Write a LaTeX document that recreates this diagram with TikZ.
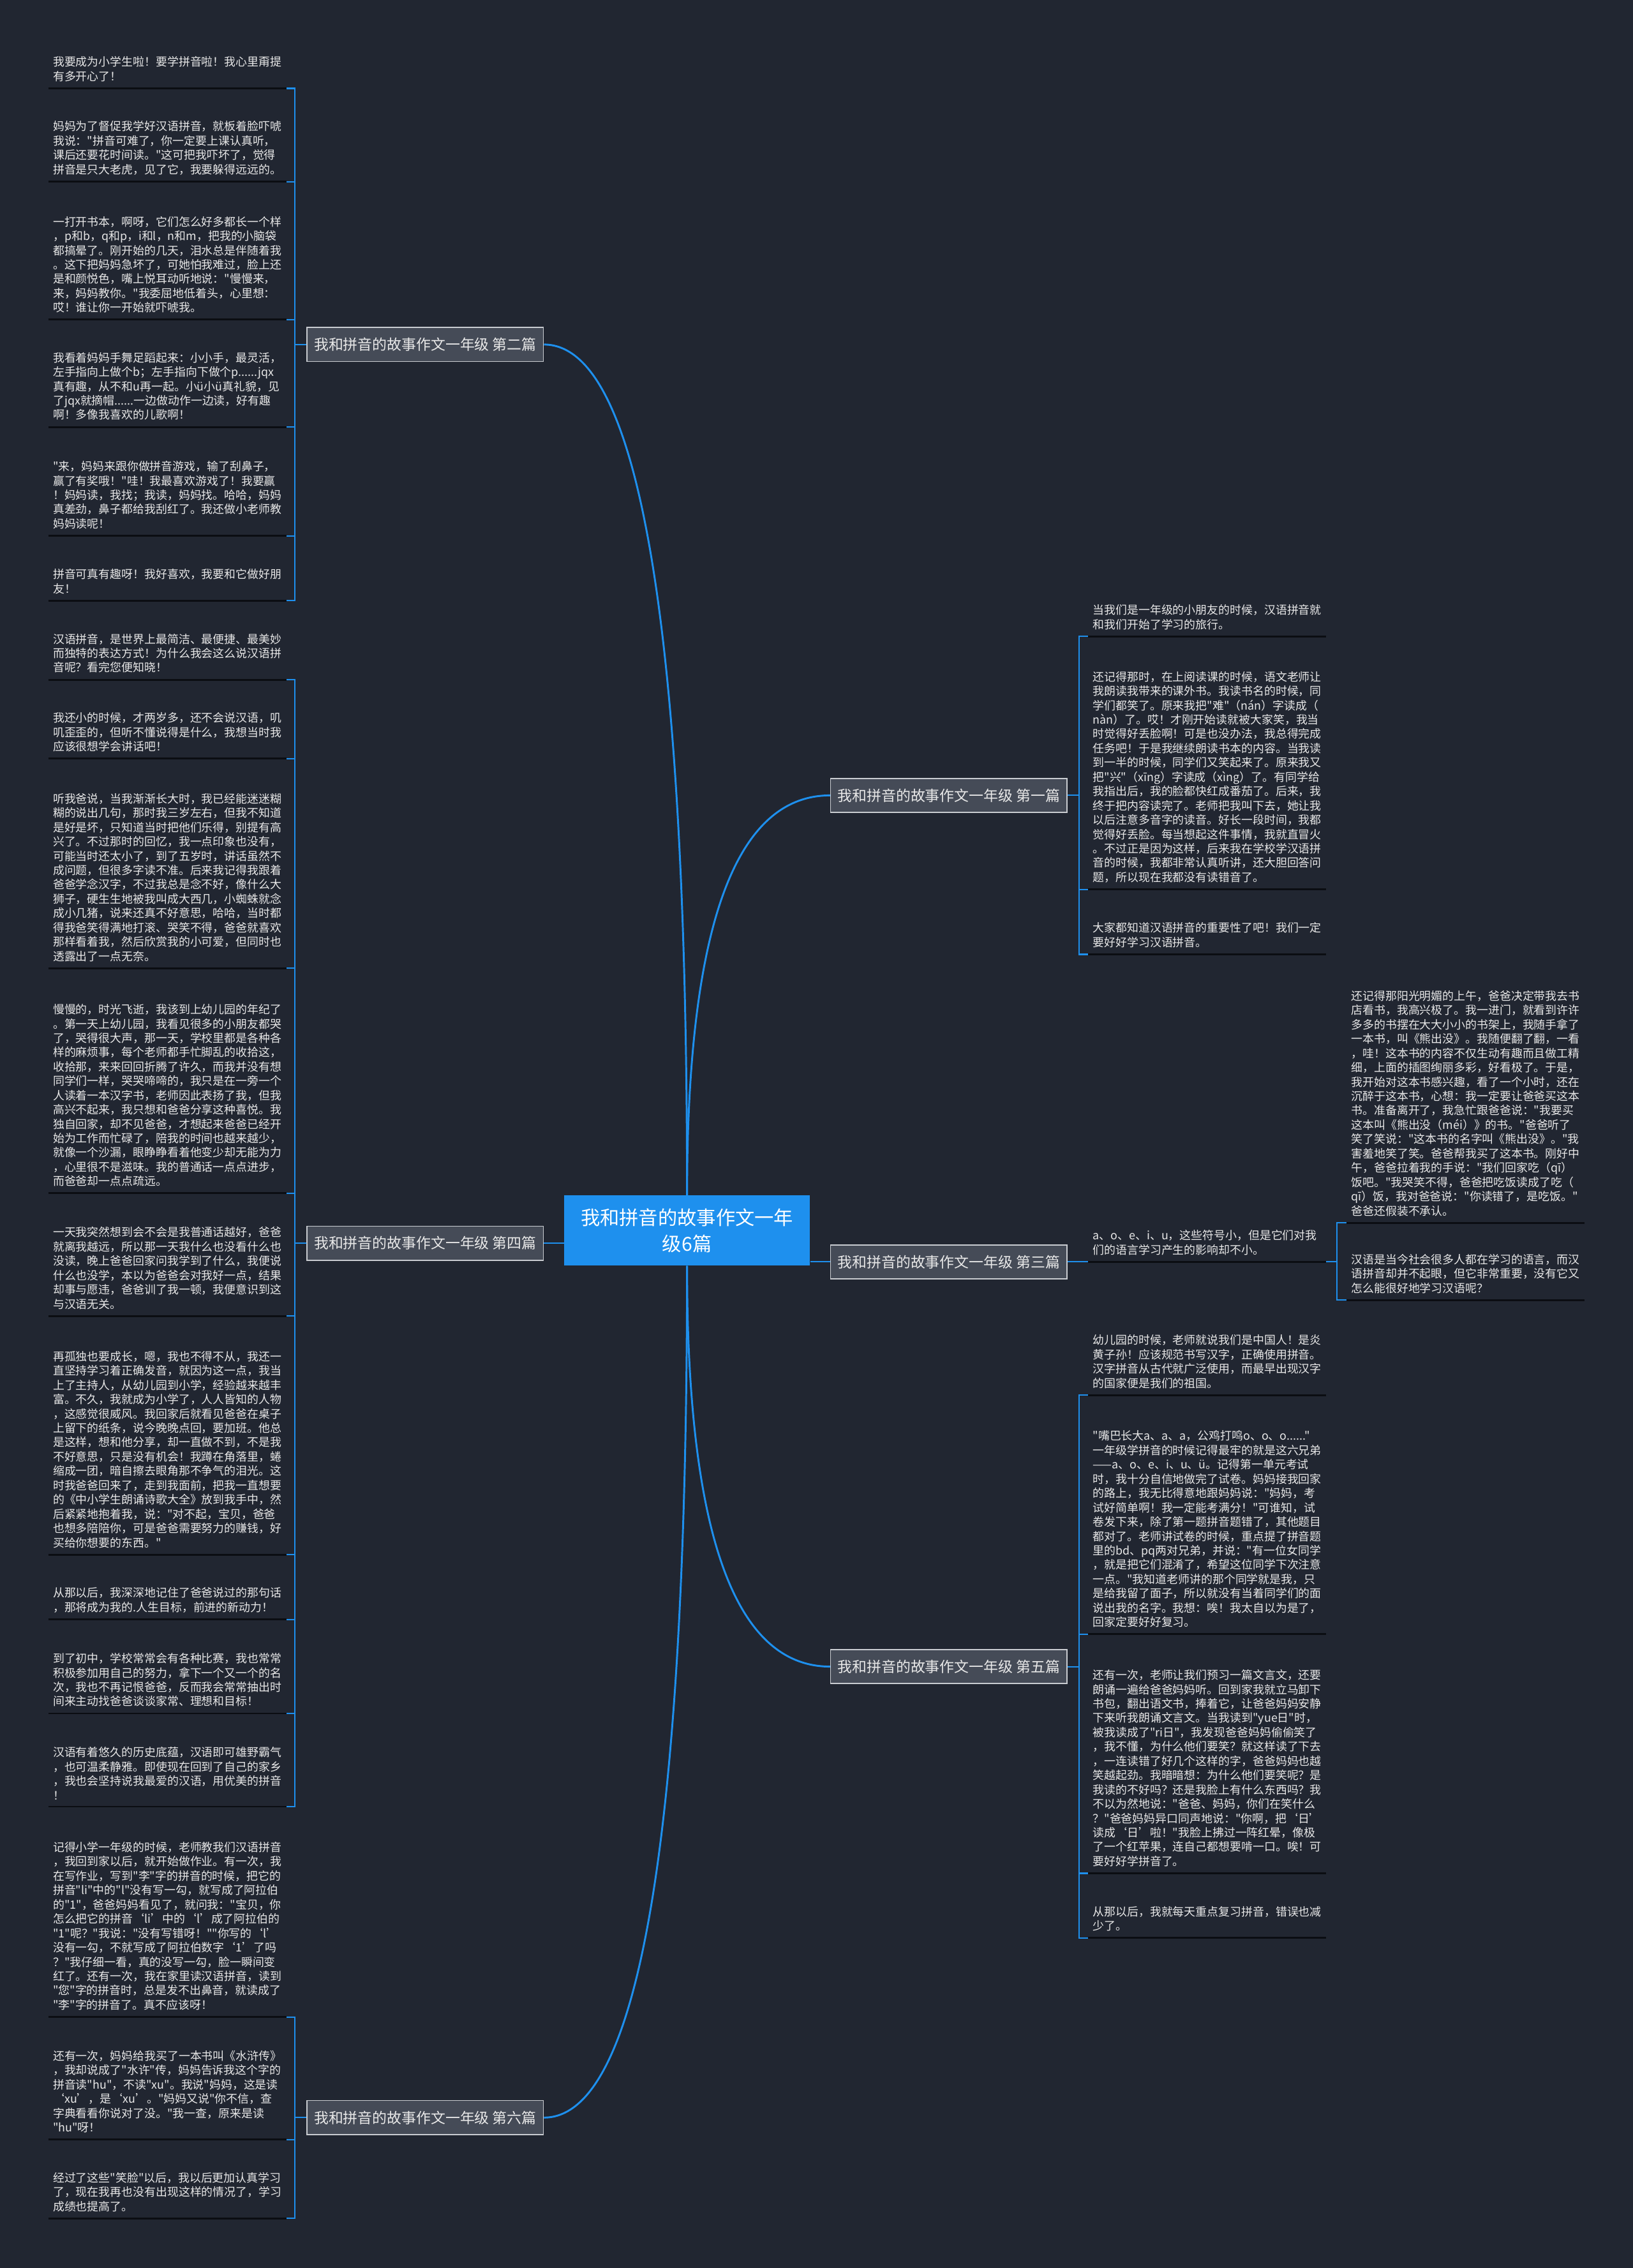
\documentclass[tikz,border=0pt]{standalone}
\usepackage{fontspec}
\newfontfamily\cjk{Noto Sans CJK SC}
\usepackage{tikz}
\usetikzlibrary{calc,positioning}
\definecolor{mmbg}{HTML}{212631}
\definecolor{mmblue}{HTML}{1E90EE}
\definecolor{mmgrey}{HTML}{454B57}
\definecolor{mmedge}{HTML}{C9CCD1}
\definecolor{mmink}{HTML}{E8E8E8}
\definecolor{mmline}{HTML}{0B0D12}

\tikzset{
  root/.style={fill=mmblue,text=white,minimum width=170pt,minimum height=48.5pt,
    text width=150pt,align=center,inner sep=0pt,font=\cjk\fontsize{13.35}{18.3}\selectfont},
  branch/.style={draw=mmedge,line width=0.7pt,fill=mmgrey,text=mmink,minimum width=163.5pt,
    minimum height=23.5pt,inner sep=0pt,font=\cjk\fontsize{10.1}{12}\selectfont},
  leaf/.style={anchor=south west,text=mmink,text width=158pt,inner xsep=3pt,inner ysep=4.5pt,
    align=left,font=\cjk\fontsize{7.9}{9.9}\selectfont},
  trunk/.style={draw=mmblue,line width=1.3pt},
  link/.style={draw=mmblue,line width=0.9pt},
  uline/.style={draw=mmline,line width=1.3pt}
}

\begin{document}
\begin{tikzpicture}[x=1pt,y=-1pt]
\fill[mmbg] (0,0) rectangle (1129,1568);
\useasboundingbox (0,0) rectangle (1129,1568);

% centre and the six essays
\node[root] (root) at (475,850.75) {我和拼音的故事作文一年\\级6篇};
\node[branch] (b2) at (294,238.2) {我和拼音的故事作文一年级 第二篇};
\node[branch] (b4) at (294,859.5) {我和拼音的故事作文一年级 第四篇};
\node[branch] (b6) at (294,1464) {我和拼音的故事作文一年级 第六篇};
\node[branch] (b1) at (656,549.9) {我和拼音的故事作文一年级 第一篇};
\node[branch] (b3) at (656,872.4) {我和拼音的故事作文一年级 第三篇};
\node[branch] (b5) at (656,1152.2) {我和拼音的故事作文一年级 第五篇};

% second essay
\node[leaf] (a1) at (33.5,61.1) {我要成为小学生啦！要学拼音啦！我心里甭提\\有多开心了！};
\node[leaf] (a2) at (33.5,125.6) {妈妈为了督促我学好汉语拼音，就板着脸吓唬\\我说："拼音可难了，你一定要上课认真听，\\课后还要花时间读。"这可把我吓坏了，觉得\\拼音是只大老虎，见了它，我要躲得远远的。};
\node[leaf] (a3) at (33.5,221) {一打开书本，啊呀，它们怎么好多都长一个样\\，p和b，q和p，i和l，n和m，把我的小脑袋\\都搞晕了。刚开始的几天，泪水总是伴随着我\\。这下把妈妈急坏了，可她怕我难过，脸上还\\是和颜悦色，嘴上悦耳动听地说："慢慢来，\\来，妈妈教你。"我委屈地低着头，心里想：\\哎！谁让你一开始就吓唬我。};
\node[leaf] (a4) at (33.5,295.2) {我看着妈妈手舞足蹈起来：小小手，最灵活，\\左手指向上做个b；左手指向下做个p......jqx\\真有趣，从不和u再一起。小ü小ü真礼貌，见\\了jqx就摘帽......一边做动作一边读，好有趣\\啊！多像我喜欢的儿歌啊！};
\node[leaf] (a5) at (33.5,370.4) {"来，妈妈来跟你做拼音游戏，输了刮鼻子，\\赢了有奖哦！"哇！我最喜欢游戏了！我要赢\\！妈妈读，我找；我读，妈妈找。哈哈，妈妈\\真差劲，鼻子都给我刮红了。我还做小老师教\\妈妈读呢！};
\node[leaf] (a6) at (33.5,415.2) {拼音可真有趣呀！我好喜欢，我要和它做好朋\\友！};

% fourth essay
\node[leaf] (c1) at (33.5,469.9) {汉语拼音，是世界上最简洁、最便捷、最美妙\\而独特的表达方式！为什么我会这么说汉语拼\\音呢？看完您便知晓！};
\node[leaf] (c2) at (33.5,524.5) {我还小的时候，才两岁多，还不会说汉语，叽\\叽歪歪的，但听不懂说得是什么，我想当时我\\应该很想学会讲话吧！};
\node[leaf] (c3) at (33.5,669.4) {听我爸说，当我渐渐长大时，我已经能迷迷糊\\糊的说出几句，那时我三岁左右，但我不知道\\是好是坏，只知道当时把他们乐得，别提有高\\兴了。不过那时的回忆，我一点印象也没有，\\可能当时还太小了，到了五岁时，讲话虽然不\\成问题，但很多字读不准。后来我记得我跟着\\爸爸学念汉字，不过我总是念不好，像什么大\\狮子，硬生生地被我叫成大西几，小蜘蛛就念\\成小几猪，说来还真不好意思，哈哈，当时都\\得我爸笑得满地打滚、哭笑不得，爸爸就喜欢\\那样看着我，然后欣赏我的小可爱，但同时也\\透露出了一点无奈。};
\node[leaf] (c4) at (33.5,825) {慢慢的，时光飞逝，我该到上幼儿园的年纪了\\。第一天上幼儿园，我看见很多的小朋友都哭\\了，哭得很大声，那一天，学校里都是各种各\\样的麻烦事，每个老师都手忙脚乱的收拾这，\\收拾那，来来回回折腾了许久，而我并没有想\\同学们一样，哭哭啼啼的，我只是在一旁一个\\人读着一本汉字书，老师因此表扬了我，但我\\高兴不起来，我只想和爸爸分享这种喜悦。我\\独自回家，却不见爸爸，才想起来爸爸已经开\\始为工作而忙碌了，陪我的时间也越来越少，\\就像一个沙漏，眼睁睁看着他变少却无能为力\\，心里很不是滋味。我的普通话一点点进步，\\而爸爸却一点点疏远。};
\node[leaf] (c5) at (33.5,909.8) {一天我突然想到会不会是我普通话越好，爸爸\\就离我越远，所以那一天我什么也没看什么也\\没读，晚上爸爸回家问我学到了什么，我便说\\什么也没学，本以为爸爸会对我好一点，结果\\却事与愿违，爸爸训了我一顿，我便意识到这\\与汉语无关。};
\node[leaf] (c6) at (33.5,1074.8) {再孤独也要成长，嗯，我也不得不从，我还一\\直坚持学习着正确发音，就因为这一点，我当\\上了主持人，从幼儿园到小学，经验越来越丰\\富。不久，我就成为小学了，人人皆知的人物\\，这感觉很威风。我回家后就看见爸爸在桌子\\上留下的纸条，说今晚晚点回，要加班。他总\\是这样，想和他分享，却一直做不到，不是我\\不好意思，只是没有机会！我蹲在角落里，蜷\\缩成一团，暗自擦去眼角那不争气的泪光。这\\时我爸爸回来了，走到我面前，把我一直想要\\的《中小学生朗诵诗歌大全》放到我手中，然\\后紧紧地抱着我，说："对不起，宝贝，爸爸\\也想多陪陪你，可是爸爸需要努力的赚钱，好\\买给你想要的东西。"};
\node[leaf] (c7) at (33.5,1119.6) {从那以后，我深深地记住了爸爸说过的那句话\\，那将成为我的.人生目标，前进的新动力！};
\node[leaf] (c8) at (33.5,1184.6) {到了初中，学校常常会有各种比赛，我也常常\\积极参加用自己的努力，拿下一个又一个的名\\次，我也不再记恨爸爸，反而我会常常抽出时\\间来主动找爸爸谈谈家常、理想和目标！};
\node[leaf] (c9) at (33.5,1249) {汉语有着悠久的历史底蕴，汉语即可雄野霸气\\，也可温柔静雅。即使现在回到了自己的家乡\\，我也会坚持说我最爱的汉语，用优美的拼音\\！};

% sixth essay
\node[leaf] (e1) at (33.5,1394.4) {记得小学一年级的时候，老师教我们汉语拼音\\，我回到家以后，就开始做作业。有一次，我\\在写作业，写到"李"字的拼音的时候，把它的\\拼音"li"中的"l"没有写一勾，就写成了阿拉伯\\的"1"，爸爸妈妈看见了，就问我："宝贝，你\\怎么把它的拼音‘li’中的‘l’成了阿拉伯的\\"1"呢？"我说："没有写错呀！""你写的‘l’\\没有一勾，不就写成了阿拉伯数字‘1’了吗\\？"我仔细一看，真的没写一勾，脸一瞬间变\\红了。还有一次，我在家里读汉语拼音，读到\\"您"字的拼音时，总是发不出鼻音，就读成了\\"李"字的拼音了。真不应该呀！};
\node[leaf] (e2) at (33.5,1479.2) {还有一次，妈妈给我买了一本书叫《水浒传》\\，我却说成了"水许"传，妈妈告诉我这个字的\\拼音读"hu"，不读"xu"。我说"妈妈，这是读\\‘xu’，是‘xu’。"妈妈又说"你不信，查\\字典看看你说对了没。"我一查，原来是读\\"hu"呀！};
\node[leaf] (e3) at (33.5,1533.7) {经过了这些"笑脸"以后，我以后更加认真学习\\了，现在我再也没有出现这样的情况了，学习\\成绩也提高了。};

% first essay
\node[leaf] (d1) at (752.4,440) {当我们是一年级的小朋友的时候，汉语拼音就\\和我们开始了学习的旅行。};
\node[leaf] (d2) at (752.4,615) {还记得那时，在上阅读课的时候，语文老师让\\我朗读我带来的课外书。我读书名的时候，同\\学们都笑了。原来我把"难"（nán）字读成（\\nàn）了。哎！才刚开始读就被大家笑，我当\\时觉得好丢脸啊！可是也没办法，我总得完成\\任务吧！于是我继续朗读书本的内容。当我读\\到一半的时候，同学们又笑起来了。原来我又\\把"兴"（xīng）字读成（xìng）了。有同学给\\我指出后，我的脸都快红成番茄了。后来，我\\终于把内容读完了。老师把我叫下去，她让我\\以后注意多音字的读音。好长一段时间，我都\\觉得好丢脸。每当想起这件事情，我就直冒火\\。不过正是因为这样，后来我在学校学汉语拼\\音的时候，我都非常认真听讲，还大胆回答问\\题，所以现在我都没有读错音了。};
\node[leaf] (d3) at (752.4,659.8) {大家都知道汉语拼音的重要性了吧！我们一定\\要好好学习汉语拼音。};

% third essay
\node[leaf] (s1) at (752.4,872.4) {a、o、e、i、u，这些符号小，但是它们对我\\们的语言学习产生的影响却不小。};
\node[leaf] (s1a) at (931,845.4) {还记得那阳光明媚的上午，爸爸决定带我去书\\店看书，我高兴极了。我一进门，就看到许许\\多多的书摆在大大小小的书架上，我随手拿了\\一本书，叫《熊出没》。我随便翻了翻，一看\\，哇！这本书的内容不仅生动有趣而且做工精\\细，上面的插图绚丽多彩，好看极了。于是，\\我开始对这本书感兴趣，看了一个小时，还在\\沉醉于这本书，心想：我一定要让爸爸买这本\\书。准备离开了，我急忙跟爸爸说："我要买\\这本叫《熊出没（méi）》的书。"爸爸听了\\笑了笑说："这本书的名字叫《熊出没》。"我\\害羞地笑了笑。爸爸帮我买了这本书。刚好中\\午，爸爸拉着我的手说："我们回家吃（qī）\\饭吧。"我哭笑不得，爸爸把吃饭读成了吃（\\qī）饭，我对爸爸说："你读错了，是吃饭。"\\爸爸还假装不承认。};
\node[leaf] (s1b) at (931,898.8) {汉语是当今社会很多人都在学习的语言，而汉\\语拼音却并不起眼，但它非常重要，没有它又\\怎么能很好地学习汉语呢？};

% fifth essay
\node[leaf] (f1) at (752.4,964.6) {幼儿园的时候，老师就说我们是中国人！是炎\\黄子孙！应该规范书写汉字，正确使用拼音。\\汉字拼音从古代就广泛使用，而最早出现汉字\\的国家便是我们的祖国。};
\node[leaf] (f2) at (752.4,1129.8) {"嘴巴长大a、a、a，公鸡打鸣o、o、o......"\\一年级学拼音的时候记得最牢的就是这六兄弟\\——a、o、e、i、u、ü。记得第一单元考试\\时，我十分自信地做完了试卷。妈妈接我回家\\的路上，我无比得意地跟妈妈说："妈妈，考\\试好简单啊！我一定能考满分！"可谁知，试\\卷发下来，除了第一题拼音题错了，其他题目\\都对了。老师讲试卷的时候，重点提了拼音题\\里的bd、pq两对兄弟，并说："有一位女同学\\，就是把它们混淆了，希望这位同学下次注意\\一点。"我知道老师讲的那个同学就是我，只\\是给我留了面子，所以就没有当着同学们的面\\说出我的名字。我想：唉！我太自以为是了，\\回家定要好好复习。};
\node[leaf] (f3) at (752.4,1295.1) {还有一次，老师让我们预习一篇文言文，还要\\朗诵一遍给爸爸妈妈听。回到家我就立马卸下\\书包，翻出语文书，捧着它，让爸爸妈妈安静\\下来听我朗诵文言文。当我读到"yue日"时，\\被我读成了"ri日"，我发现爸爸妈妈偷偷笑了\\，我不懂，为什么他们要笑？就这样读了下去\\，一连读错了好几个这样的字，爸爸妈妈也越\\笑越起劲。我暗暗想：为什么他们要笑呢？是\\我读的不好吗？还是我脸上有什么东西吗？我\\不以为然地说："爸爸、妈妈，你们在笑什么\\？"爸爸妈妈异口同声地说："你啊，把‘日’\\读成‘日’啦！"我脸上拂过一阵红晕，像极\\了一个红苹果，连自己都想要啃一口。唉！可\\要好好学拼音了。};
\node[leaf] (f4) at (752.4,1339.7) {从那以后，我就每天重点复习拼音，错误也减\\少了。};

% trunk curves
\draw[trunk] (root.north) .. controls ($(root.north)!.667!(root.north |- b2.east)$) and ($(b2.east)!.667!(root.north |- b2.east)$) .. (b2.east);
\draw[trunk] (root.north) .. controls ($(root.north)!.667!(root.north |- b1.west)$) and ($(b1.west)!.667!(root.north |- b1.west)$) .. (b1.west);
\draw[trunk] (root.south) .. controls ($(root.south)!.667!(root.south |- b6.east)$) and ($(b6.east)!.667!(root.south |- b6.east)$) .. (b6.east);
\draw[trunk] (root.south) .. controls ($(root.south)!.667!(root.south |- b5.west)$) and ($(b5.west)!.667!(root.south |- b5.west)$) .. (b5.west);
\draw[link] (b4.east) -- (b4.east -| root.west);
\draw[link] (b3.west) -- (b3.west -| root.east);

% brackets to the leaves
\foreach \l in {a1,a2,a3,a4,a5,a6}
  \draw[link] (b2.west) -- ++(-8,0) |- (\l.south east);
\foreach \l in {c1,c2,c3,c4,c5,c6,c7,c8,c9}
  \draw[link] (b4.west) -- ++(-8,0) |- (\l.south east);
\foreach \l in {e1,e2,e3}
  \draw[link] (b6.west) -- ++(-8,0) |- (\l.south east);
\foreach \l in {d1,d2,d3}
  \draw[link] (b1.east) -- ++(8,0) |- (\l.south west);
\foreach \l in {f1,f2,f3,f4}
  \draw[link] (b5.east) -- ++(8,0) |- (\l.south west);
\draw[link] (b3.east) -- (s1.south west);
\foreach \l in {s1a,s1b}
  \draw[link] (s1.south east) -- ++(7.4,0) |- (\l.south west);

% underlines
\foreach \l in {a1,a2,a3,a4,a5,a6,c1,c2,c3,c4,c5,c6,c7,c8,c9,e1,e2,e3,d1,d2,d3,s1,s1a,s1b,f1,f2,f3,f4}
  \draw[uline] (\l.south west) -- (\l.south east);
\end{tikzpicture}
\end{document}
